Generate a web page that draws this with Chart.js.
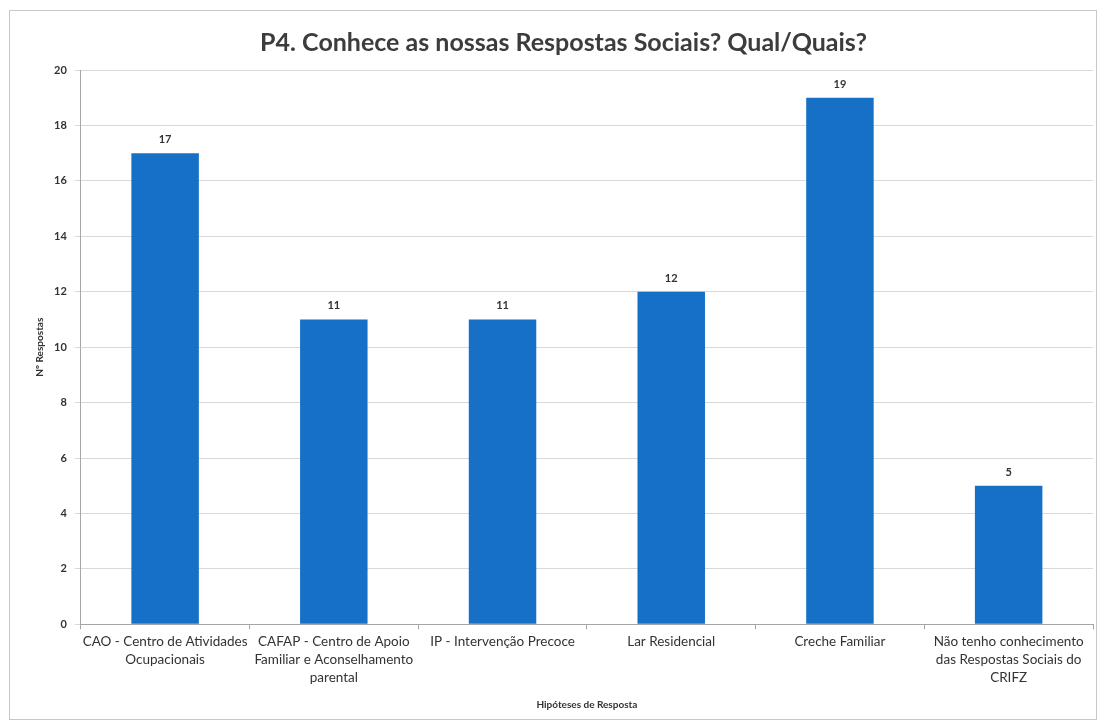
<!DOCTYPE html>
<html>
<head>
<meta charset="utf-8">
<script src="https://cdn.jsdelivr.net/npm/chart.js@4/dist/chart.umd.min.js"></script>
<style>
  body { margin: 0; background: #fff; }
  #frame { position: absolute; left: 9px; top: 10px; width: 1086px; height: 708px; border: 1px solid #c8c8c8; }
  #frame canvas { display: block; }
</style>
</head>
<body>
<div id="frame"><canvas id="chart-bars" width="1086" height="708"></canvas></div>
<script>
// categorias e valores
const categories = [
    ["CAO - Centro de Atividades", "Ocupacionais"],
    ["CAFAP - Centro de Apoio", "Familiar e Aconselhamento", "parental"],
    ["IP - Intervenção Precoce"],
    ["Lar Residencial"],
    ["Creche Familiar"],
    ["Não tenho conhecimento", "das Respostas Sociais do", "CRIFZ"]
];
const respostas = [17, 11, 11, 12, 19, 5];
const yTicks = [0, 2, 4, 6, 8, 10, 12, 14, 16, 18, 20];

// rótulos de valor por cima das barras
const valueLabels = {
    id: 'valueLabels',
    afterDatasetsDraw(chart) {
        const ctx = chart.ctx;
        const meta = chart.getDatasetMeta(0);
        ctx.save();
        ctx.font = 'bold 11px Lato';
        ctx.fillStyle = '#333';
        ctx.textAlign = 'center';
        ctx.textBaseline = 'bottom';
        meta.data.forEach((bar, i) => {
            ctx.fillText(String(respostas[i]), bar.x, bar.y - 8);
        });
        ctx.restore();
    }
};

const ctx = document.getElementById('chart-bars').getContext('2d');
new Chart(ctx, {
    type: 'bar',
    data: {
        labels: categories,
        datasets: [{
            label: 'Nº Respostas',
            data: respostas,
            backgroundColor: '#1670c6',
            borderWidth: 0,
            categoryPercentage: 1,
            barPercentage: 0.40
        }]
    },
    options: {
        responsive: false,
        animation: false,
        layout: { padding: { left: 24, right: 3, top: 2, bottom: 4 } },
        plugins: {
            legend: { display: false },
            tooltip: { enabled: false },
            title: {
                display: true,
                text: 'P4. Conhece as nossas Respostas Sociais? Qual/Quais?',
                font: { family: 'Lato', size: 25, weight: 'bold' },
                color: '#3c3c3c',
                padding: { top: 15, bottom: 12 }
            }
        },
        scales: {
            y: {
                min: 0, max: 20,
                afterBuildTicks: axis => { axis.ticks = yTicks.map(v => ({ value: v })); },
                ticks: { font: { family: 'Lato', size: 11, weight: 'bold' }, color: '#333', padding: 8 },
                grid: { color: '#d9d9d9', tickLength: 6 },
                border: { color: '#a6a6a6' },
                title: {
                    display: true, text: 'Nº Respostas',
                    font: { family: 'Lato', size: 10, weight: 'bold' }, color: '#333', padding: { top: 0, bottom: 0 }
                }
            },
            x: {
                ticks: {
                    font: { family: 'Lato', size: 13.5, lineHeight: 1.35 },
                    color: '#333', maxRotation: 0, autoSkip: false, padding: 3
                },
                grid: { offset: true, drawOnChartArea: false, tickLength: 5, color: '#a6a6a6' },
                border: { color: '#a6a6a6' },
                title: {
                    display: true, text: 'Hipóteses de Resposta',
                    font: { family: 'Lato', size: 10, weight: 'bold' }, color: '#333', padding: { top: 9 }
                }
            }
        }
    },
    plugins: [valueLabels]
});
</script>
</body>
</html>
